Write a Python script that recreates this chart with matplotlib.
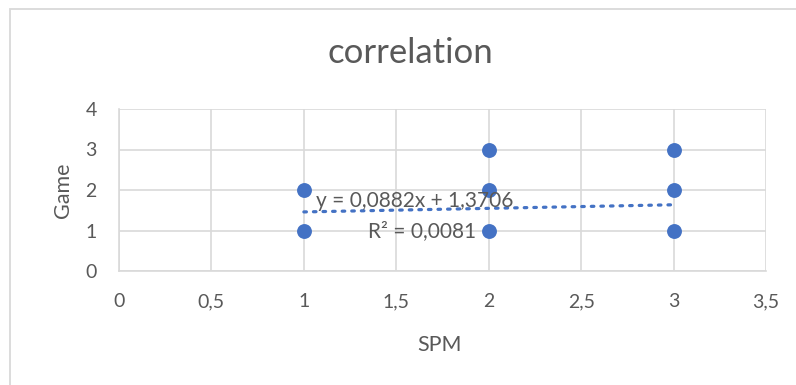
import matplotlib
matplotlib.use("Agg")
import matplotlib.pyplot as plt
from matplotlib.patches import Rectangle
from matplotlib.ticker import FuncFormatter
import numpy as np

# Observations
spm = [1, 1, 2, 2, 2, 3, 3, 3]
game = [1, 2, 1, 2, 3, 1, 2, 3]

# Linear trendline parameters
slope = 0.0882
intercept = 1.3706
r_squared = 0.0081

x_ticks = [0, 0.5, 1, 1.5, 2, 2.5, 3, 3.5]
y_ticks = [0, 1, 2, 3, 4]

blue = "#4472C4"
text_gray = "#595959"
grid_gray = "#D9D9D9"

plt.rcParams["font.family"] = ["Lato", "DejaVu Sans"]

fig = plt.figure(figsize=(7.96, 3.85), dpi=100)
ax = fig.add_axes([119 / 796, 1 - 271 / 385, (766 - 119) / 796, (271 - 109) / 385])

# chart border
fig.patches.append(Rectangle((10 / 796, -0.1), 1.2, 1 - 9 / 385 + 0.1,
                             transform=fig.transFigure, fill=False,
                             edgecolor=grid_gray, linewidth=1.3))

ax.set_xlim(0, 3.5)
ax.set_ylim(0, 4)
ax.set_xticks(x_ticks)
ax.set_yticks(y_ticks)

def comma(v, pos):
    return f"{v:g}".replace(".", ",")

ax.xaxis.set_major_formatter(FuncFormatter(comma))
ax.yaxis.set_major_formatter(FuncFormatter(comma))

ax.grid(True, color=grid_gray, linewidth=1.2)
ax.set_axisbelow(True)
for side in ["top", "right"]:
    ax.spines[side].set_visible(False)
for side in ["left", "bottom"]:
    ax.spines[side].set_color(grid_gray)
    ax.spines[side].set_linewidth(1.2)
ax.tick_params(length=0, labelsize=14, colors=text_gray)
ax.tick_params(axis="x", pad=16)
ax.tick_params(axis="y", pad=16)

# trendline
tx = np.array([min(spm), max(spm)])
ax.plot(tx, slope * tx + intercept, linestyle=(0, (0.8, 2.2)), color=blue,
        linewidth=2.3, dash_capstyle="round", zorder=2)

ax.scatter(spm, game, s=115, color=blue, zorder=3, linewidths=0)

eq = f"y = {slope:.4f}x + {intercept:.4f}".replace(".", ",")
ax.text(1.60, 1.73, eq, ha="center", va="center", fontsize=15, color=text_gray, zorder=4)
ax.text(1.64, 0.99, f"R² = {r_squared:.4f}".replace(".", ","), ha="center", va="center",
        fontsize=15, color=text_gray, zorder=4)

ax.set_xlabel("SPM", fontsize=15.5, color=text_gray)
ax.set_ylabel("Game", fontsize=15.5, color=text_gray)
ax.xaxis.set_label_coords(440 / 796 * 796 / 647 - 119 / 647, (271 - 345) / 162)
ax.yaxis.set_label_coords((63 - 119) / 647, (271 - 190) / 162)
ax.xaxis.label.set_va("center")
ax.yaxis.label.set_va("center")

fig.text(410 / 796, 1 - 53 / 385, "correlation", ha="center", va="center",
         fontsize=25, color=text_gray)

fig.savefig("out.png", dpi=100)
